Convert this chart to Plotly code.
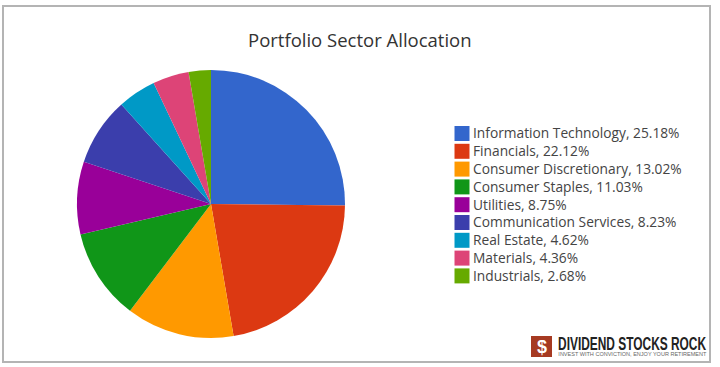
import plotly.graph_objects as go

W, H = 720, 367
sectors = ["Information Technology", "Financials", "Consumer Discretionary", "Consumer Staples",
           "Utilities", "Communication Services", "Real Estate", "Materials", "Industrials"]
weights = [25.18, 22.12, 13.02, 11.03, 8.75, 8.23, 4.62, 4.36, 2.68]
colors = ["#3366CC", "#DC3912", "#FF9900", "#109618", "#990099", "#3B3EAC", "#0099C6", "#DD4477", "#66AA00"]
FONT = "Open Sans, Noto Sans, sans-serif"

def px(x): return x / W
def py(y): return 1 - y / H

fig = go.Figure(go.Pie(
    labels=sectors, values=weights, sort=False, direction="clockwise", rotation=0,
    marker=dict(colors=colors, line=dict(width=0)), textinfo="none", hoverinfo="label+percent",
    showlegend=False,
    domain=dict(x=[px(77), px(345)], y=[py(338), py(70)]),
))

shapes = [
    dict(type="rect", xref="paper", yref="paper", x0=px(3), x1=px(710), y0=py(362), y1=py(6),
         line=dict(color="#B4B4B4", width=2), fillcolor="rgba(0,0,0,0)"),
    dict(type="rect", xref="paper", yref="paper", x0=px(531), x1=px(552), y0=py(357), y1=py(336),
         line=dict(width=0), fillcolor="#A63A22"),
]
annotations = [
    dict(text="Portfolio Sector Allocation", x=px(360), y=py(39), xref="paper", yref="paper",
         xanchor="center", yanchor="middle", showarrow=False, font=dict(family=FONT, size=18.5, color="#333333")),
    dict(text="<b>$</b>", x=px(541.5), y=py(346.5), xref="paper", yref="paper", xanchor="center", yanchor="middle",
         showarrow=False, font=dict(family="Liberation Sans", size=18, color="white")),
    dict(text="<b>DIVIDEND STOCKS ROCK</b>", x=px(632), y=py(343), xref="paper", yref="paper", xanchor="center",
         yanchor="middle", showarrow=False, font=dict(family="Liberation Sans", size=19, color="#222222")),
    dict(text="INVEST WITH CONVICTION, ENJOY YOUR RETIREMENT", x=px(632), y=py(354), xref="paper", yref="paper",
         xanchor="center", yanchor="middle", showarrow=False, font=dict(family="Liberation Sans", size=6, color="#666666")),
]
y0 = 133.5
step = 17.8
for i, (s, v, c) in enumerate(zip(sectors, weights, colors)):
    yc = y0 + i * step
    shapes.append(dict(type="rect", xref="paper", yref="paper", x0=px(454.5), x1=px(469.5),
                       y0=py(yc + 7.5), y1=py(yc - 7.5), line=dict(width=0), fillcolor=c))
    annotations.append(dict(text=f"{s}, {v:.2f}%", x=px(471), y=py(yc - 0.7), xref="paper", yref="paper",
                            xanchor="left", yanchor="middle", showarrow=False,
                            font=dict(family=FONT, size=13.75, color="#444444")))

fig.update_layout(width=W, height=H, margin=dict(l=0, r=0, t=0, b=0), paper_bgcolor="white",
                  shapes=shapes, annotations=annotations, showlegend=False)

post = """
document.body.style.margin = '0';
document.documentElement.style.overflow = 'hidden';
document.querySelectorAll('.annotation-text').forEach(function (t) {
  var s = t.textContent;
  if (s.indexOf('DIVIDEND') === 0 || s.indexOf('INVEST') === 0) {
    t.setAttribute('textLength', '148');
    t.setAttribute('lengthAdjust', 'spacingAndGlyphs');
  }
});
"""
fig.write_html("out.html", config=dict(displayModeBar=False), post_script=post)
